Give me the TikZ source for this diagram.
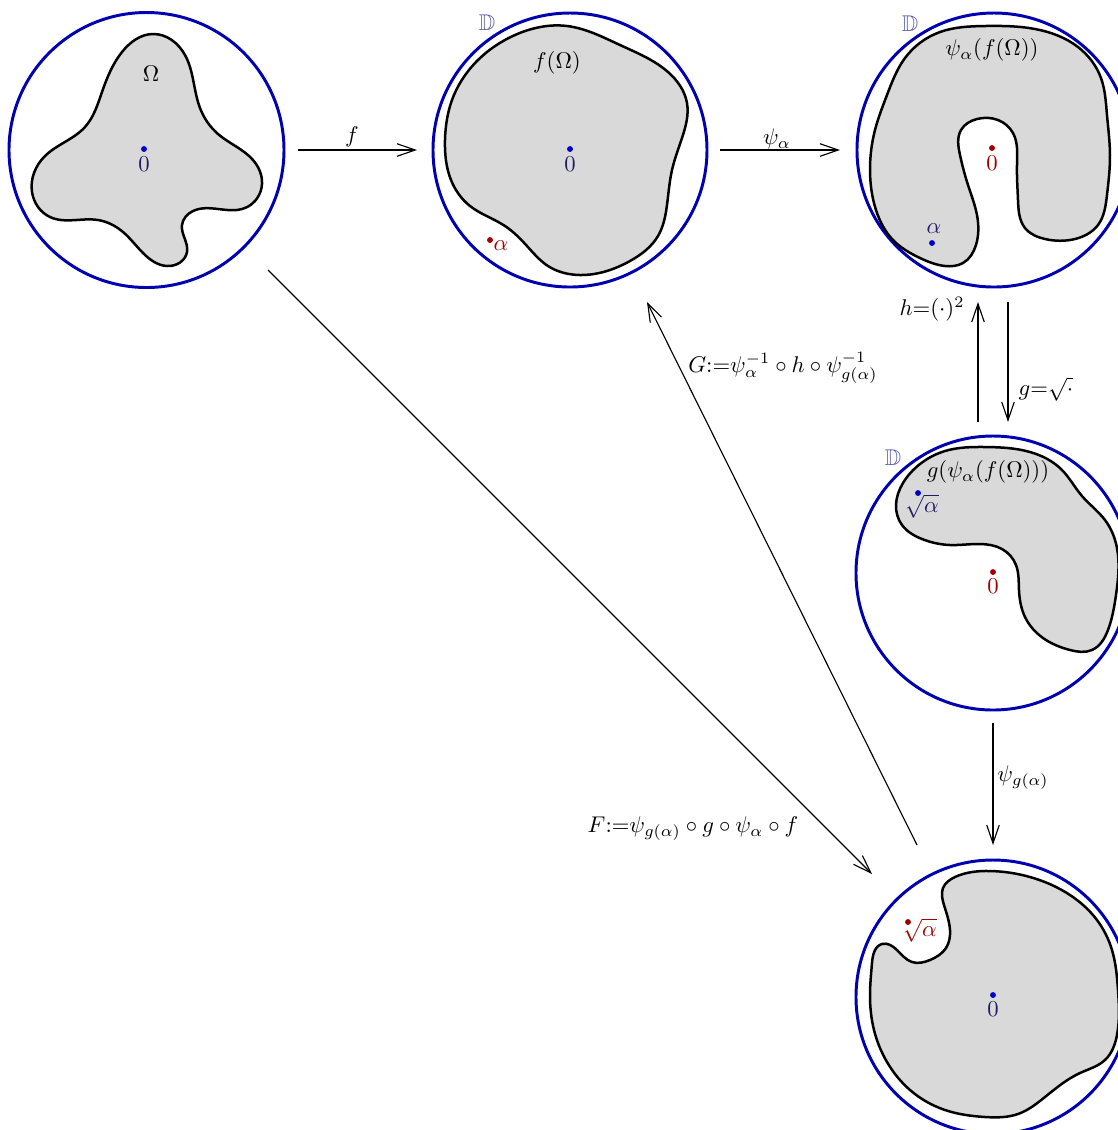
\documentclass[tikz,border=0pt]{standalone}
\usepackage{amssymb}
\usetikzlibrary{arrows.meta,hobby}
\definecolor{diskblue}{HTML}{0000B0}
\definecolor{dotblue}{HTML}{0000C8}
\definecolor{zeronavy}{HTML}{1E1E64}
\definecolor{dlabel}{HTML}{5A5AAA}
\definecolor{darkred}{HTML}{A00000}
\definecolor{regiongray}{HTML}{D9D9D9}
\tikzset{
  disk/.style={draw=diskblue,line width=1.3pt},
  region/.style={draw=black,fill=regiongray,line width=1.1pt,use Hobby shortcut,closed=true},
  mapar/.style={-{Straight Barb[length=8pt,width=5.5pt]},line width=0.5pt},
  bdot/.style={circle,fill=dotblue,inner sep=0pt,minimum size=2.6pt},
  rdot/.style={circle,fill=darkred,inner sep=0pt,minimum size=2.6pt},
  lbl/.style={inner sep=1pt},
}
\begin{document}
\begin{tikzpicture}[x=0.44pt,y=-0.44pt]
\useasboundingbox (0,0) rectangle (1118,1130);
% ---------- disk 1 : Omega
\draw[disk] (146.5,150) circle[radius=137.5];
\draw[region] (153,34) .. (185,55) .. (200,108) .. (218,134) .. (253,160)
 .. (262,184) .. (245,208) .. (193,211) .. (182,225) .. (187,252) .. (167,266)
 .. (143,253) .. (123,232) .. (98,220) .. (50,217) .. (32,192) .. (45,156)
 .. (85,127) .. (102,92) .. (122,52);
\node[bdot] (o1) at (144,149) {};
\node[lbl,text=zeronavy] (z1) at (144,164) {$0$};
\node[lbl] (om) at (151,74) {$\Omega$};
% ---------- disk 2 : f(Omega)
\draw[disk] (570,150) circle[radius=137];
\draw[region] (567,26) .. (620,45) .. (668,72) .. (687,103) .. (682,138)
 .. (672,170) .. (667,205) .. (658,236) .. (630,261) .. (580,275) .. (548,266)
 .. (527,246) .. (505,226) .. (470,206) .. (451,180) .. (445,140) .. (452,100)
 .. (476,62) .. (515,35);
\node[bdot] (o2) at (570,149) {};
\node[lbl,text=zeronavy] (z2) at (570,164) {$0$};
\node[lbl] (fo) at (557,63) {$f(\Omega)$};
\node[rdot] (a2) at (490,240) {};
\node[lbl,text=darkred] (al2) at (501,246) {$\alpha$};
\node[lbl,text=dlabel] (D2) at (487,23) {$\mathbb{D}$};
% ---------- disk 3 : psi_alpha(f(Omega))
\draw[disk] (994,150) circle[radius=137];
\draw[region] (985,26) .. (1035,29) .. (1078,47) .. (1101,78) .. (1107,115)
 .. (1110,155) .. (1107,195) .. (1098,225) .. (1075,239) .. (1045,239)
 .. (1025,228) .. (1018,200) .. (1017,165) .. (1013,133) .. (998,120)
 .. (977,119) .. (961,130) .. (960,155) .. (968,185) .. (977,215)
 .. (976,245) .. (963,263) .. (945,266) .. (920,258) .. (893,240)
 .. (876,210) .. (870,170) .. (875,130) .. (887,95) .. (905,58) .. (940,32);
\node[rdot] (o3) at (992,148) {};
\node[lbl,text=darkred] (z3) at (992,163) {$0$};
\node[lbl,text=zeronavy] (al3) at (934,229) {$\alpha$};
\node[bdot] (a3) at (932,243) {};
\node[lbl] (pfo) at (992,50) {$\psi_\alpha(f(\Omega))$};
\node[lbl,text=dlabel] (D3) at (910,24) {$\mathbb{D}$};
% ---------- disk 4 : g(psi_alpha(f(Omega)))
\draw[disk] (993,573) circle[radius=137];
\draw[region] (945,451) .. (985,447) .. (1030,452) .. (1062,470) .. (1082,496)
 .. (1105,520) .. (1117,548) .. (1116,595) .. (1108,630) .. (1092,650)
 .. (1070,650) .. (1043,638) .. (1025,617) .. (1019,590) .. (1016,565)
 .. (1002,549) .. (980,544) .. (950,545) .. (922,539) .. (902,525)
 .. (896,505) .. (903,483) .. (920,464);
\node[bdot] (a4) at (918,493) {};
\node[lbl,text=zeronavy] (sa4) at (922,506) {$\sqrt{\alpha}$};
\node[rdot] (o4) at (993,572) {};
\node[lbl,text=darkred] (z4) at (993,586) {$0$};
\node[lbl] (gpfo) at (988,472) {$g(\psi_\alpha(f(\Omega)))$};
\node[lbl,text=dlabel] (D4) at (893,458) {$\mathbb{D}$};
% ---------- disk 5
\draw[disk] (993,997) circle[radius=137];
\draw[region] (955,877) .. (990,871) .. (1030,877) .. (1070,895) .. (1097,920)
 .. (1112,950) .. (1118,990) .. (1117,1035) .. (1105,1060) .. (1080,1073)
 .. (1045,1097) .. (1018,1114) .. (985,1117) .. (945,1110) .. (910,1090)
 .. (887,1062) .. (874,1030) .. (870,995) .. (872,963) .. (882,944)
 .. (897,950) .. (912,962) .. (930,960) .. (946,948) .. (950,930)
 .. (944,905) .. (943,888);
\node[rdot] (a5) at (908,922) {};
\node[lbl,text=darkred] (sa5) at (920,930) {$\sqrt{\alpha}$};
\node[bdot] (o5) at (993,995) {};
\node[lbl,text=zeronavy] (z5) at (993,1009) {$0$};
% ---------- arrows
\coordinate (f1) at (298,150); \coordinate (f2) at (417,150);
\coordinate (p1) at (720,150); \coordinate (p2) at (840,150);
\coordinate (h1) at (978,422); \coordinate (h2) at (978,302);
\coordinate (g1) at (1008,302); \coordinate (g2) at (1008,422);
\coordinate (q1) at (993,723); \coordinate (q2) at (993,845);
\coordinate (F1) at (268,270); \coordinate (F2) at (872,874);
\coordinate (G1) at (917,845); \coordinate (G2) at (647,302);
\draw[mapar] (f1) -- (f2);
\draw[mapar] (p1) -- (p2);
\draw[mapar] (h1) -- (h2);
\draw[mapar] (g1) -- (g2);
\draw[mapar] (q1) -- (q2);
\draw[mapar] (F1) -- (F2);
\draw[mapar] (G1) -- (G2);
\node[lbl] (lf) at (352,137) {$f$};
\node[lbl] (lp) at (777,139) {$\psi_\alpha$};
\node[lbl] (lh) at (932,309) {$h{=}(\cdot)^2$};
\node[lbl] (lg) at (1046,389) {$g{=}\sqrt{\cdot}$};
\node[lbl] (lq) at (1023,778) {$\psi_{g(\alpha)}$};
\node[lbl] (lF) at (693,829) {$F{:=}\psi_{g(\alpha)}\circ g\circ\psi_\alpha\circ f$};
\node[lbl] (lG) at (783,368) {$G{:=}\psi_\alpha^{-1}\circ h\circ\psi_{g(\alpha)}^{-1}$};
\end{tikzpicture}
\end{document}
